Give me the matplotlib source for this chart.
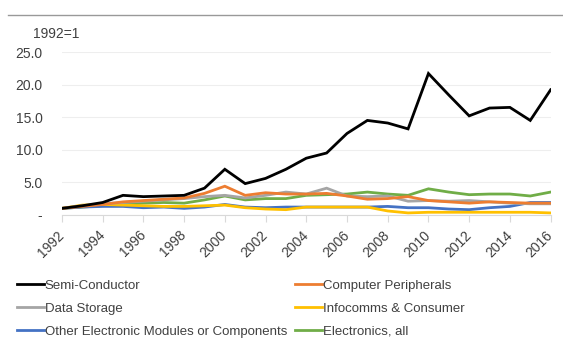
import matplotlib.pyplot as plt
from matplotlib.lines import Line2D

years = list(range(1992, 2017))

semi = [1.0, 1.4, 1.9, 3.0, 2.8, 2.9, 3.0, 4.1, 7.0, 4.8, 5.6, 7.0, 8.7,
        9.5, 12.5, 14.5, 14.1, 13.2, 21.7, 18.4, 15.2, 16.4, 16.5, 14.5, 19.2]
peripherals = [1.0, 1.3, 1.6, 2.0, 2.2, 2.4, 2.6, 3.3, 4.4, 3.0, 3.4, 3.2, 3.2,
               3.3, 2.9, 2.4, 2.5, 2.8, 2.2, 2.0, 1.8, 2.0, 1.9, 1.8, 1.8]
storage = [1.0, 1.4, 1.7, 1.9, 2.1, 2.3, 2.5, 2.8, 3.0, 2.6, 3.0, 3.5, 3.2,
           4.1, 2.9, 2.8, 2.9, 2.1, 2.2, 2.1, 2.2, 2.0, 1.8, 1.7, 1.7]
infocomms = [1.0, 1.5, 1.6, 1.5, 1.4, 1.3, 1.3, 1.4, 1.5, 1.1, 0.9, 0.8, 1.2,
             1.2, 1.2, 1.2, 0.6, 0.3, 0.4, 0.4, 0.4, 0.4, 0.4, 0.4, 0.3]
other = [1.0, 1.2, 1.3, 1.3, 1.1, 1.2, 1.0, 1.2, 1.6, 1.2, 1.1, 1.2, 1.2,
         1.2, 1.2, 1.2, 1.3, 1.1, 1.1, 0.9, 0.8, 1.1, 1.3, 1.9, 1.9]
electronics = [1.0, 1.2, 1.4, 1.6, 1.8, 1.9, 1.8, 2.3, 2.9, 2.3, 2.5, 2.5, 3.0,
               3.1, 3.2, 3.5, 3.2, 3.0, 4.0, 3.5, 3.1, 3.2, 3.2, 2.9, 3.5]

series = [
    ("Semi-Conductor", semi, "#000000"),
    ("Computer Peripherals", peripherals, "#ed7d31"),
    ("Data Storage", storage, "#a5a5a5"),
    ("Infocomms & Consumer", infocomms, "#ffc000"),
    ("Other Electronic Modules or Components", other, "#4472c4"),
    ("Electronics, all", electronics, "#70ad47"),
]
yticks = [0, 5, 10, 15, 20, 25]
ylabels = ["-", "5.0", "10.0", "15.0", "20.0", "25.0"]

plt.rcParams['font.family'] = ['Liberation Sans', 'DejaVu Sans']

fig = plt.figure(figsize=(5.63, 3.40), dpi=100)
ax = fig.add_axes([0.110, 0.368, 0.868, 0.479])

# draw in reverse so black ends up on top
for name, vals, col in reversed(series):
    ax.plot(years, vals, color=col, lw=2.0, solid_joinstyle='miter')

ax.set_xlim(1992, 2016)
ax.set_ylim(0, 25)
ax.set_yticks(yticks)
ax.set_yticklabels(ylabels, fontsize=10, color='#404040')
ax.set_xticks(years[::2])
ax.set_xticklabels([str(y) for y in years[::2]], rotation=45, fontsize=10,
                   color='#404040', ha='right', va='center',
                   rotation_mode='anchor')
ax.tick_params(axis='y', length=0, pad=14)
ax.tick_params(axis='x', length=5, color='#d9d9d9', pad=8)
ax.grid(axis='y', color='#eeeeee', lw=0.8)
ax.set_axisbelow(True)
for s in ['top', 'right', 'left']:
    ax.spines[s].set_visible(False)
ax.spines['bottom'].set_color('#d9d9d9')

fig.text(0.059, 0.888, "1992=1", fontsize=10, color='#404040')

# thin rule at the top of the picture
fig.add_artist(Line2D([0.015, 1.0], [0.956, 0.956], color='#999999', lw=1.0))

# legend is filled row by row in the reference: reorder for column-major fill
order = [0, 2, 4, 1, 3, 5]
handles = [Line2D([], [], color=series[i][2], lw=2) for i in order]
labels = [series[i][0] for i in order]
leg = fig.legend(handles, labels, loc='upper left', bbox_to_anchor=(0.03, 0.177),
                 ncol=2, frameon=False, fontsize=9.5, handlelength=2.05,
                 handletextpad=0.05, columnspacing=0.6, labelspacing=0.8,
                 borderaxespad=0, borderpad=0)
for t in leg.get_texts():
    t.set_color('#404040')

fig.savefig("out.png", dpi=100)
